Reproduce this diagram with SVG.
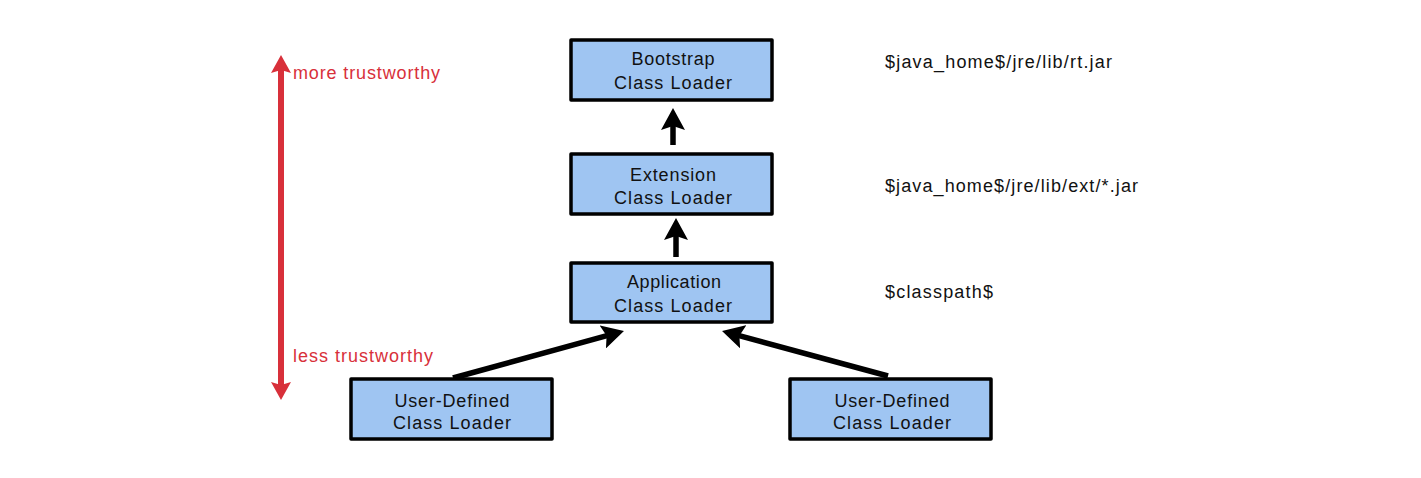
<svg xmlns="http://www.w3.org/2000/svg" width="1421" height="478" viewBox="0 0 1421 478">
<style>
.box{fill:#9fc5f2;stroke:#000;stroke-width:3.5;stroke-linejoin:round}
.t{font-family:"Liberation Sans",Arial,sans-serif;font-size:18px;fill:#111;text-anchor:middle}
.r{font-family:"Liberation Sans",Arial,sans-serif;font-size:18px;fill:#111}
.red{font-family:"Liberation Sans",Arial,sans-serif;font-size:18px;fill:#d8303a}
.conn{stroke:#000;stroke-width:5.5;fill:none;marker-end:url(#ah)}
.dbl{stroke:#d8303a;stroke-width:6;fill:none;marker-start:url(#rh);marker-end:url(#rh)}
</style>
<defs>
<marker id="ah" viewBox="0 0 22 24" refX="10" refY="12" markerWidth="22" markerHeight="24" markerUnits="userSpaceOnUse" orient="auto">
<path d="M0,0 L22,12 L0,24 L4,12 Z" fill="#000"/>
</marker>
<marker id="rh" viewBox="0 0 18 20" refX="6" refY="10" markerWidth="18" markerHeight="20" markerUnits="userSpaceOnUse" orient="auto-start-reverse">
<path d="M0,0 L18,10 L0,20 L3,10 Z" fill="#d8303a"/>
</marker>
</defs>
<rect width="1421" height="478" fill="#fff"/>
<g id="connectors">
<line class="conn" x1="673" y1="145" x2="673" y2="120"/>
<line class="conn" x1="676" y1="257" x2="676" y2="230"/>
<line class="conn" x1="453" y1="378" x2="612.4" y2="334.2"/>
<line class="conn" x1="888" y1="376" x2="733.6" y2="334.1"/>
<line class="dbl" x1="281" y1="67" x2="281" y2="388"/>
</g>
<g id="bootstrap">
<rect class="box" x="571" y="40" width="201" height="60"/>
<text class="t" x="673" y="65" textLength="83" lengthAdjust="spacing">Bootstrap</text>
<text class="t" x="673" y="89" textLength="118" lengthAdjust="spacing">Class Loader</text>
</g>
<g id="extension">
<rect class="box" x="571" y="154" width="201" height="60"/>
<text class="t" x="673" y="181" textLength="86" lengthAdjust="spacing">Extension</text>
<text class="t" x="673" y="204" textLength="118" lengthAdjust="spacing">Class Loader</text>
</g>
<g id="application">
<rect class="box" x="571" y="263" width="201" height="59"/>
<text class="t" x="674" y="288" textLength="94" lengthAdjust="spacing">Application</text>
<text class="t" x="673" y="312" textLength="118" lengthAdjust="spacing">Class Loader</text>
</g>
<g id="userdefined-left">
<rect class="box" x="351" y="379" width="201" height="60"/>
<text class="t" x="452" y="407" textLength="115" lengthAdjust="spacing">User-Defined</text>
<text class="t" x="452" y="429" textLength="118" lengthAdjust="spacing">Class Loader</text>
</g>
<g id="userdefined-right">
<rect class="box" x="790" y="379" width="201" height="60"/>
<text class="t" x="892" y="407" textLength="115" lengthAdjust="spacing">User-Defined</text>
<text class="t" x="892" y="429" textLength="118" lengthAdjust="spacing">Class Loader</text>
</g>
<g id="paths">
<text class="r" x="885" y="68" textLength="227" lengthAdjust="spacing">$java_home$/jre/lib/rt.jar</text>
<text class="r" x="885" y="192" textLength="253" lengthAdjust="spacing">$java_home$/jre/lib/ext/*.jar</text>
<text class="r" x="885" y="298" textLength="108" lengthAdjust="spacing">$classpath$</text>
</g>
<g id="trust">
<text class="red" x="293" y="79" textLength="147" lengthAdjust="spacing">more trustworthy</text>
<text class="red" x="293" y="362" textLength="140" lengthAdjust="spacing">less trustworthy</text>
</g>
</svg>
